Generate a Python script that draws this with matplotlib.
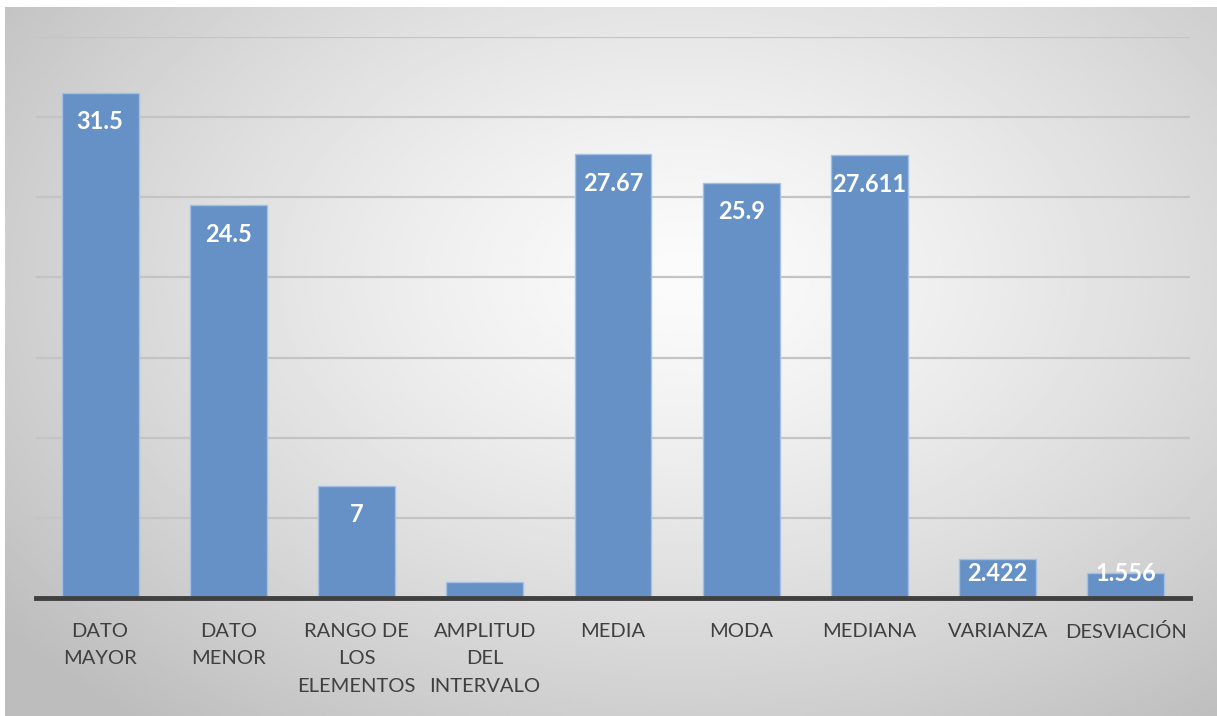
import numpy as np
import matplotlib.pyplot as plt

categories = ['DATO\nMAYOR', 'DATO\nMENOR', 'RANGO DE\nLOS\nELEMENTOS',
              'AMPLITUD\nDEL\nINTERVALO', 'MEDIA', 'MODA', 'MEDIANA',
              'VARIANZA', 'DESVIACIÓN']
values = [31.5, 24.5, 7, 1, 27.67, 25.9, 27.611, 2.422, 1.556]
value_labels = ['31.5', '24.5', '7', '', '27.67', '25.9', '27.611', '2.422', '1.556']

W, H = 1217, 716
fig = plt.figure(figsize=(W / 100, H / 100), dpi=100)

# radial gradient background (chart area)
bg = fig.add_axes([5 / W, 0, 1 - 5 / W, 1 - 7 / H])
yy, xx = np.mgrid[0:1:300j, 0:1:500j]
r = np.sqrt(((xx - 0.56) / 0.75) ** 2 + ((yy - 0.38) / 0.85) ** 2)
shade = np.clip(0.985 - 0.26 * r ** 1.3, 0.74, 1.0)
bg.imshow(shade, cmap='gray', vmin=0, vmax=1, aspect='auto',
          extent=[0, 1, 1, 0], interpolation='bilinear')
bg.set_axis_off()

ax = fig.add_axes([36 / W, 1 - 598 / H, (1190 - 36) / W, (598 - 37) / H])
ax.patch.set_alpha(0)
x = np.arange(len(values))
ax.bar(x, values, width=0.6, color='#6591c7', edgecolor='#a3c0e4',
       linewidth=1, zorder=3)
ax.set_xlim(-0.5, len(values) - 0.5)
ax.set_ylim(0, 35)
ax.set_yticks(np.arange(0, 36, 5))
ax.yaxis.grid(True, color='#c4c4c4', linewidth=1.6, zorder=0)
ax.set_yticklabels([])
ax.tick_params(axis='y', length=0)
for s in ['top', 'right', 'left']:
    ax.spines[s].set_visible(False)
ax.spines['bottom'].set_color('#404040')
ax.spines['bottom'].set_linewidth(3.5)
ax.spines['bottom'].set_zorder(4)
ax.set_xticks(x)
ax.set_xticklabels(categories, fontsize=14.5, color='#404040', family='Lato',
                   linespacing=1.75, va='top')
ax.tick_params(axis='x', length=0, pad=18)

for xi, v, lab in zip(x, values, value_labels):
    if not lab:
        continue
    ax.text(xi, max(v - 1.8, 1.55), lab, ha='center', va='center',
            color='white', fontsize=17, fontweight='bold', family='Lato',
            zorder=5)

fig.savefig('out.png', dpi=100)
